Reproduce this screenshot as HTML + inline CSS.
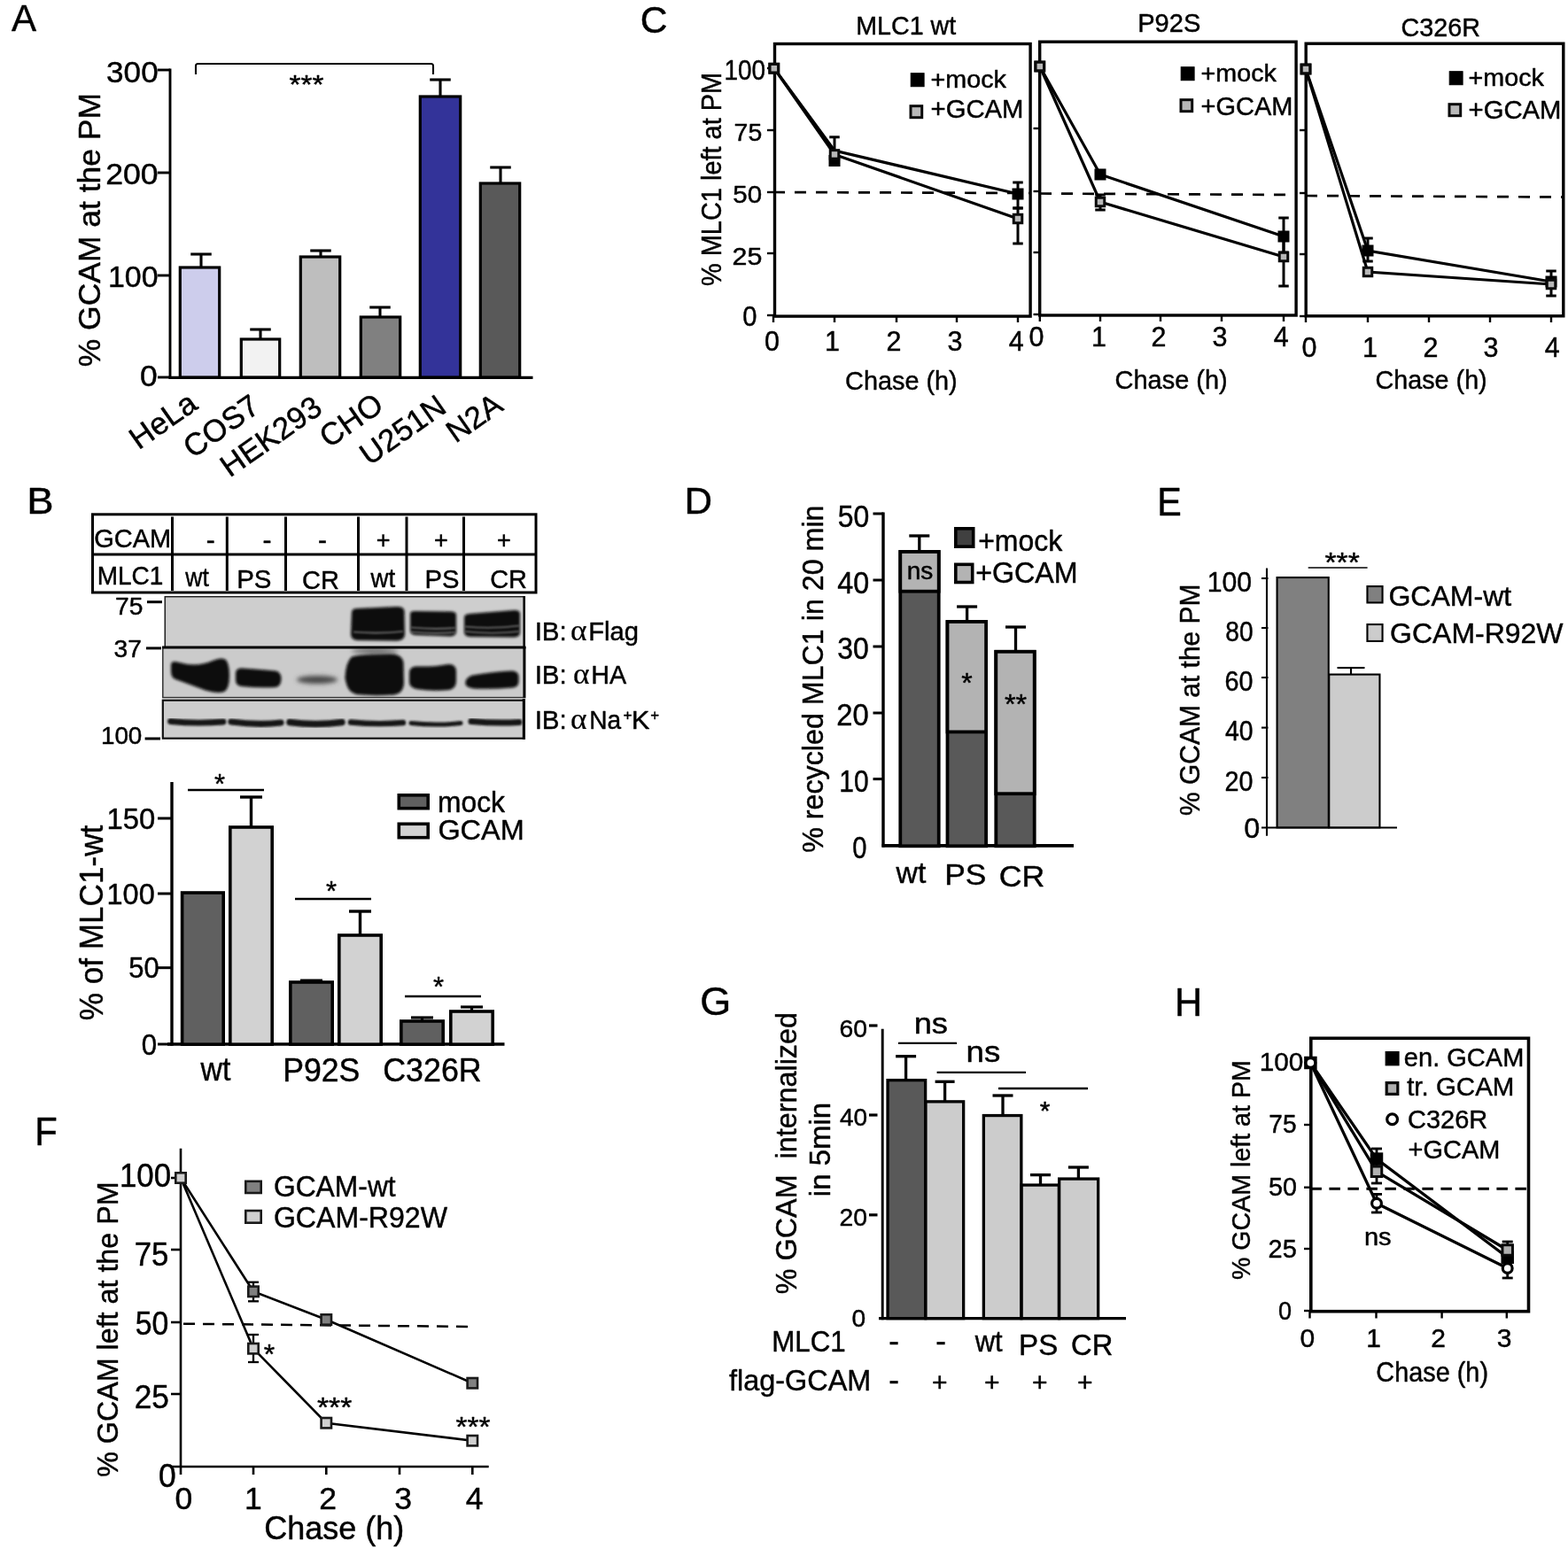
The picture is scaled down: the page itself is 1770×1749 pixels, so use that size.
<!DOCTYPE html>
<html lang="en"><head><meta charset="utf-8"><title>Figure</title>
<style>
html,body{margin:0;padding:0;background:#fff}
body{width:1770px;height:1749px;overflow:hidden}
svg{display:block}
text{font-family:"Liberation Sans",sans-serif;stroke:#000;stroke-width:0.45px;stroke-linejoin:round}
</style></head><body>
<svg width="1770" height="1749" viewBox="0 0 1770 1749">
<defs>
<filter id="b1" x="-30%" y="-60%" width="160%" height="220%"><feGaussianBlur stdDeviation="1.6"/></filter>
<filter id="b2" x="-30%" y="-60%" width="160%" height="220%"><feGaussianBlur stdDeviation="2.6"/></filter>
<filter id="b3" x="-30%" y="-100%" width="160%" height="300%"><feGaussianBlur stdDeviation="1"/></filter>
</defs>
<rect width="1770" height="1749" fill="#fff"/>
<g id="panelA">
<text transform="translate(13 35) scale(0.9907 1)" font-size="42.5" fill="#000">A</text>
<line x1="192" y1="77.5" x2="192" y2="427.8" stroke="#000" stroke-width="2.9"/>
<line x1="190.6" y1="426.3" x2="601.5" y2="426.3" stroke="#000" stroke-width="3.3"/>
<line x1="178" y1="79" x2="192" y2="79" stroke="#000" stroke-width="2.9"/>
<line x1="178" y1="195" x2="192" y2="195" stroke="#000" stroke-width="2.9"/>
<line x1="178" y1="311" x2="192" y2="311" stroke="#000" stroke-width="2.9"/>
<line x1="178" y1="426" x2="192" y2="426" stroke="#000" stroke-width="2.9"/>
<text transform="translate(120.1 93.4) scale(1.0322 1)" font-size="34" fill="#000">300</text>
<text transform="translate(119.22 208.2) scale(1.0480 1)" font-size="34" fill="#000">200</text>
<text transform="translate(121.95 324.2) scale(0.9987 1)" font-size="34" fill="#000">100</text>
<text transform="translate(158.08 436) scale(1.0417 1)" font-size="34" fill="#000">0</text>
<text xml:space="preserve" transform="translate(113 414.24) rotate(-90) scale(0.9984 1)" font-size="35.5" fill="#000">% GCAM at the PM</text>
<rect x="203.3" y="302" width="44.4" height="124" fill="#cdcdec" stroke="#000" stroke-width="3.2"/>
<rect x="272.3" y="383" width="43.4" height="43" fill="#f2f2f2" stroke="#000" stroke-width="3.2"/>
<rect x="339.3" y="290" width="44.4" height="136" fill="#bebebe" stroke="#000" stroke-width="3.2"/>
<rect x="407.3" y="358" width="44.4" height="68" fill="#808080" stroke="#000" stroke-width="3.2"/>
<rect x="474.3" y="109" width="45.4" height="317" fill="#333399" stroke="#000" stroke-width="3.2"/>
<rect x="542.3" y="207" width="44.4" height="219" fill="#595959" stroke="#000" stroke-width="3.2"/>
<line x1="227" y1="287" x2="227" y2="302" stroke="#000" stroke-width="3.1"/>
<line x1="215.25" y1="287" x2="238.75" y2="287" stroke="#000" stroke-width="3.1"/>
<line x1="294" y1="372" x2="294" y2="383" stroke="#000" stroke-width="3.1"/>
<line x1="282.25" y1="372" x2="305.75" y2="372" stroke="#000" stroke-width="3.1"/>
<line x1="362" y1="283" x2="362" y2="290" stroke="#000" stroke-width="3.1"/>
<line x1="350.25" y1="283" x2="373.75" y2="283" stroke="#000" stroke-width="3.1"/>
<line x1="429" y1="347" x2="429" y2="358" stroke="#000" stroke-width="3.1"/>
<line x1="417.25" y1="347" x2="440.75" y2="347" stroke="#000" stroke-width="3.1"/>
<line x1="497" y1="90" x2="497" y2="109" stroke="#000" stroke-width="3.1"/>
<line x1="485.25" y1="90" x2="508.75" y2="90" stroke="#000" stroke-width="3.1"/>
<line x1="565" y1="189" x2="565" y2="207" stroke="#000" stroke-width="3.1"/>
<line x1="553.25" y1="189" x2="576.75" y2="189" stroke="#000" stroke-width="3.1"/>
<path d="M221 84 V74.5 Q221 72 223.5 72 H486.5 Q489 72 489 74.5 V84" fill="none" stroke="#000" stroke-width="2.1"/>
<text transform="translate(326.5 104.5) scale(1.1111 1)" font-size="30" fill="#000">***</text>
<text transform="translate(225 460.5) rotate(-35) scale(1.0000 1)" font-size="35" text-anchor="end">HeLa</text>
<text transform="translate(295.5 463.5) rotate(-35) scale(1.0000 1)" font-size="35" text-anchor="end">COS7</text>
<text transform="translate(366 465) rotate(-35) scale(1.0000 1)" font-size="35" text-anchor="end">HEK293</text>
<text transform="translate(435 462) rotate(-35) scale(1.0000 1)" font-size="35" text-anchor="end">CHO</text>
<text transform="translate(506 464) rotate(-35) scale(1.0000 1)" font-size="35" text-anchor="end">U251N</text>
<text transform="translate(570 462) rotate(-35) scale(1.0000 1)" font-size="35" text-anchor="end">N2A</text>
</g>
<g id="panelC">
<text transform="translate(722.87 37) scale(0.9888 1)" font-size="43" fill="#000">C</text>
<text transform="translate(966.21 38.7) scale(0.9639 1)" font-size="29.7" fill="#000">MLC1 wt</text>
<text transform="translate(1284.17 36) scale(0.9796 1)" font-size="29.7" fill="#000">P92S</text>
<text transform="translate(1581.56 40.5) scale(0.9682 1)" font-size="29.7" fill="#000">C326R</text>
<rect x="874.5" y="49.5" width="288.6" height="307.6" fill="none" stroke="#000" stroke-width="3.4"/>
<rect x="1173.7" y="47.2" width="289.4" height="308.8" fill="none" stroke="#000" stroke-width="3.4"/>
<rect x="1474.2" y="49.2" width="290.6" height="307.6" fill="none" stroke="#000" stroke-width="3.4"/>
<line x1="866" y1="77" x2="873" y2="77" stroke="#000" stroke-width="2.4"/>
<line x1="866" y1="147" x2="873" y2="147" stroke="#000" stroke-width="2.4"/>
<line x1="866" y1="217" x2="873" y2="217" stroke="#000" stroke-width="2.4"/>
<line x1="866" y1="286" x2="873" y2="286" stroke="#000" stroke-width="2.4"/>
<line x1="866" y1="356" x2="873" y2="356" stroke="#000" stroke-width="2.4"/>
<line x1="873" y1="357" x2="873" y2="364" stroke="#000" stroke-width="2.4"/>
<line x1="942" y1="357" x2="942" y2="364" stroke="#000" stroke-width="2.4"/>
<line x1="1012" y1="357" x2="1012" y2="364" stroke="#000" stroke-width="2.4"/>
<line x1="1080" y1="357" x2="1080" y2="364" stroke="#000" stroke-width="2.4"/>
<line x1="1149" y1="357" x2="1149" y2="364" stroke="#000" stroke-width="2.4"/>
<line x1="1166.5" y1="145" x2="1173" y2="145" stroke="#000" stroke-width="2.4"/>
<line x1="1166.5" y1="216" x2="1173" y2="216" stroke="#000" stroke-width="2.4"/>
<line x1="1166.5" y1="285" x2="1173" y2="285" stroke="#000" stroke-width="2.4"/>
<line x1="1166.5" y1="355" x2="1173" y2="355" stroke="#000" stroke-width="2.4"/>
<line x1="1173.8" y1="356" x2="1173.8" y2="363" stroke="#000" stroke-width="2.4"/>
<line x1="1242" y1="356" x2="1242" y2="363" stroke="#000" stroke-width="2.4"/>
<line x1="1310" y1="356" x2="1310" y2="363" stroke="#000" stroke-width="2.4"/>
<line x1="1379" y1="356" x2="1379" y2="363" stroke="#000" stroke-width="2.4"/>
<line x1="1449" y1="356" x2="1449" y2="363" stroke="#000" stroke-width="2.4"/>
<line x1="1467" y1="147" x2="1474" y2="147" stroke="#000" stroke-width="2.4"/>
<line x1="1467" y1="218" x2="1474" y2="218" stroke="#000" stroke-width="2.4"/>
<line x1="1467" y1="287" x2="1474" y2="287" stroke="#000" stroke-width="2.4"/>
<line x1="1467" y1="357" x2="1474" y2="357" stroke="#000" stroke-width="2.4"/>
<line x1="1474" y1="357" x2="1474" y2="364" stroke="#000" stroke-width="2.4"/>
<line x1="1544" y1="357" x2="1544" y2="364" stroke="#000" stroke-width="2.4"/>
<line x1="1613" y1="357" x2="1613" y2="364" stroke="#000" stroke-width="2.4"/>
<line x1="1682" y1="357" x2="1682" y2="364" stroke="#000" stroke-width="2.4"/>
<line x1="1751" y1="357" x2="1751" y2="364" stroke="#000" stroke-width="2.4"/>
<text transform="translate(817.4 90) scale(0.8742 1)" font-size="32" fill="#000">100</text>
<text transform="translate(828.58 159) scale(1.0530 1)" font-size="27" fill="#000">75</text>
<text transform="translate(827.32 229) scale(1.0914 1)" font-size="27" fill="#000">50</text>
<text transform="translate(826.48 299) scale(1.1256 1)" font-size="27" fill="#000">25</text>
<text transform="translate(838.33 368) scale(0.9409 1)" font-size="31" fill="#000">0</text>
<text xml:space="preserve" transform="translate(813.7 323.01) rotate(-90) scale(0.9250 1)" font-size="31.3" fill="#000">% MLC1 left at PM</text>
<text transform="translate(862.96 395.5) scale(1.0000 1)" font-size="30.5" fill="#000">0</text>
<text transform="translate(931.08 395.5) scale(1.0000 1)" font-size="30.5" fill="#000">1</text>
<text transform="translate(1000.54 395.5) scale(1.0000 1)" font-size="30.5" fill="#000">2</text>
<text transform="translate(1069.54 395.5) scale(1.0000 1)" font-size="30.5" fill="#000">3</text>
<text transform="translate(1138.69 395.5) scale(1.0000 1)" font-size="30.5" fill="#000">4</text>
<text transform="translate(1161.46 391) scale(1.0000 1)" font-size="30.5" fill="#000">0</text>
<text transform="translate(1232.08 391) scale(1.0000 1)" font-size="30.5" fill="#000">1</text>
<text transform="translate(1299.54 391) scale(1.0000 1)" font-size="30.5" fill="#000">2</text>
<text transform="translate(1368.54 391) scale(1.0000 1)" font-size="30.5" fill="#000">3</text>
<text transform="translate(1437.69 391) scale(1.0000 1)" font-size="30.5" fill="#000">4</text>
<text transform="translate(1469.46 402.7) scale(1.0000 1)" font-size="30.5" fill="#000">0</text>
<text transform="translate(1538.08 402.7) scale(1.0000 1)" font-size="30.5" fill="#000">1</text>
<text transform="translate(1606.54 402.7) scale(1.0000 1)" font-size="30.5" fill="#000">2</text>
<text transform="translate(1674.54 402.7) scale(1.0000 1)" font-size="30.5" fill="#000">3</text>
<text transform="translate(1743.69 402.7) scale(1.0000 1)" font-size="30.5" fill="#000">4</text>
<text transform="translate(954.06 440) scale(0.9618 1)" font-size="30" fill="#000">Chase (h)</text>
<text transform="translate(1258.55 439) scale(0.9657 1)" font-size="30" fill="#000">Chase (h)</text>
<text transform="translate(1552.56 438.5) scale(0.9579 1)" font-size="30" fill="#000">Chase (h)</text>
<line x1="873" y1="217" x2="1163" y2="218" stroke="#000" stroke-width="2.7" stroke-dasharray="13 11"/>
<line x1="1174" y1="218.5" x2="1463" y2="220" stroke="#000" stroke-width="2.7" stroke-dasharray="13 11"/>
<line x1="1474" y1="221" x2="1765" y2="222.5" stroke="#000" stroke-width="2.7" stroke-dasharray="13 11"/>
<polyline points="873.8,77 942,170 1149,219" fill="none" stroke="#000" stroke-width="3.2"/>
<line x1="942" y1="154.8" x2="942" y2="180" stroke="#000" stroke-width="3"/>
<line x1="936.25" y1="154.8" x2="947.75" y2="154.8" stroke="#000" stroke-width="3"/>
<line x1="1149" y1="206" x2="1149" y2="235" stroke="#000" stroke-width="3"/>
<line x1="1143.25" y1="206" x2="1154.75" y2="206" stroke="#000" stroke-width="3"/>
<line x1="1143.25" y1="235" x2="1154.75" y2="235" stroke="#000" stroke-width="3"/>
<rect x="868.05" y="71.45" width="11.5" height="11.5" fill="#000" stroke="#000" stroke-width="1.5"/>
<rect x="936.25" y="175.75" width="11.5" height="11.5" fill="#000" stroke="#000" stroke-width="1.5"/>
<rect x="1143.25" y="213.25" width="11.5" height="11.5" fill="#000" stroke="#000" stroke-width="1.5"/>
<polyline points="873.8,77.2 942,174.4 1149,247" fill="none" stroke="#000" stroke-width="3.2"/>
<line x1="1149" y1="235" x2="1149" y2="275" stroke="#000" stroke-width="3"/>
<line x1="1143.25" y1="235" x2="1154.75" y2="235" stroke="#000" stroke-width="3"/>
<line x1="1143.25" y1="275" x2="1154.75" y2="275" stroke="#000" stroke-width="3"/>
<rect x="869.05" y="72.45" width="9.5" height="9.5" fill="#b8b8b8" stroke="#0a0a0a" stroke-width="3"/>
<rect x="937.25" y="169.65" width="9.5" height="9.5" fill="#b8b8b8" stroke="#0a0a0a" stroke-width="3"/>
<rect x="1144.25" y="242.25" width="9.5" height="9.5" fill="#b8b8b8" stroke="#0a0a0a" stroke-width="3"/>
<polyline points="1173.8,75 1242,197 1449,267" fill="none" stroke="#000" stroke-width="3.2"/>
<line x1="1449" y1="246" x2="1449" y2="285" stroke="#000" stroke-width="3"/>
<line x1="1443.25" y1="246" x2="1454.75" y2="246" stroke="#000" stroke-width="3"/>
<line x1="1443.25" y1="285" x2="1454.75" y2="285" stroke="#000" stroke-width="3"/>
<rect x="1168.05" y="69.25" width="11.5" height="11.5" fill="#000" stroke="#000" stroke-width="1.5"/>
<rect x="1236.25" y="191.25" width="11.5" height="11.5" fill="#000" stroke="#000" stroke-width="1.5"/>
<rect x="1443.25" y="261.25" width="11.5" height="11.5" fill="#000" stroke="#000" stroke-width="1.5"/>
<polyline points="1173.8,75 1242,228 1449,290" fill="none" stroke="#000" stroke-width="3.2"/>
<line x1="1242" y1="220" x2="1242" y2="237" stroke="#000" stroke-width="3"/>
<line x1="1236.25" y1="220" x2="1247.75" y2="220" stroke="#000" stroke-width="3"/>
<line x1="1236.25" y1="237" x2="1247.75" y2="237" stroke="#000" stroke-width="3"/>
<line x1="1449" y1="270" x2="1449" y2="323" stroke="#000" stroke-width="3"/>
<line x1="1443.25" y1="270" x2="1454.75" y2="270" stroke="#000" stroke-width="3"/>
<line x1="1443.25" y1="323" x2="1454.75" y2="323" stroke="#000" stroke-width="3"/>
<rect x="1169.05" y="70.25" width="9.5" height="9.5" fill="#b8b8b8" stroke="#0a0a0a" stroke-width="3"/>
<rect x="1237.25" y="223.25" width="9.5" height="9.5" fill="#b8b8b8" stroke="#0a0a0a" stroke-width="3"/>
<rect x="1444.25" y="285.25" width="9.5" height="9.5" fill="#b8b8b8" stroke="#0a0a0a" stroke-width="3"/>
<polyline points="1474,78 1544,283 1751,318" fill="none" stroke="#000" stroke-width="3.2"/>
<line x1="1544" y1="269" x2="1544" y2="295" stroke="#000" stroke-width="3"/>
<line x1="1538.25" y1="269" x2="1549.75" y2="269" stroke="#000" stroke-width="3"/>
<line x1="1538.25" y1="295" x2="1549.75" y2="295" stroke="#000" stroke-width="3"/>
<line x1="1751" y1="306" x2="1751" y2="334" stroke="#000" stroke-width="3"/>
<line x1="1745.25" y1="306" x2="1756.75" y2="306" stroke="#000" stroke-width="3"/>
<line x1="1745.25" y1="334" x2="1756.75" y2="334" stroke="#000" stroke-width="3"/>
<rect x="1468.25" y="72.25" width="11.5" height="11.5" fill="#000" stroke="#000" stroke-width="1.5"/>
<rect x="1538.25" y="277.25" width="11.5" height="11.5" fill="#000" stroke="#000" stroke-width="1.5"/>
<rect x="1745.25" y="312.25" width="11.5" height="11.5" fill="#000" stroke="#000" stroke-width="1.5"/>
<polyline points="1474,78 1544,307 1751,321" fill="none" stroke="#000" stroke-width="3.2"/>
<rect x="1469.25" y="73.25" width="9.5" height="9.5" fill="#b8b8b8" stroke="#0a0a0a" stroke-width="3"/>
<rect x="1539.25" y="302.25" width="9.5" height="9.5" fill="#b8b8b8" stroke="#0a0a0a" stroke-width="3"/>
<rect x="1746.25" y="316.25" width="9.5" height="9.5" fill="#b8b8b8" stroke="#0a0a0a" stroke-width="3"/>
<rect x="1028.2" y="82.7" width="14.9" height="15" fill="#000" stroke="#000" stroke-width="1"/>
<text transform="translate(1050.56 99) scale(1.0636 1)" font-size="27" fill="#000">+mock</text>
<rect x="1028" y="119.7" width="12.7" height="13" fill="#b8b8b8" stroke="#0a0a0a" stroke-width="3"/>
<text transform="translate(1050.54 133) scale(1.0095 1)" font-size="29" fill="#000">+GCAM</text>
<rect x="1333.2" y="75.7" width="14.9" height="15" fill="#000" stroke="#000" stroke-width="1"/>
<text transform="translate(1355.56 92) scale(1.0636 1)" font-size="27" fill="#000">+mock</text>
<rect x="1333" y="112.7" width="12.7" height="13" fill="#b8b8b8" stroke="#0a0a0a" stroke-width="3"/>
<text transform="translate(1355.55 130) scale(0.9995 1)" font-size="29" fill="#000">+GCAM</text>
<rect x="1636.2" y="80.7" width="14.9" height="15" fill="#000" stroke="#000" stroke-width="1"/>
<text transform="translate(1657.56 97) scale(1.0636 1)" font-size="27" fill="#000">+mock</text>
<rect x="1636" y="117.7" width="12.7" height="13" fill="#b8b8b8" stroke="#0a0a0a" stroke-width="3"/>
<text transform="translate(1657.54 134) scale(1.0095 1)" font-size="29" fill="#000">+GCAM</text>
</g>
<g id="panelB">
<text transform="translate(30.37 580.3) scale(1.0687 1)" font-size="42.5" fill="#000">B</text>
<rect x="104.5" y="580.8" width="500.5" height="88.2" fill="none" stroke="#000" stroke-width="3"/>
<line x1="104" y1="626" x2="605" y2="626" stroke="#000" stroke-width="3"/>
<line x1="194.5" y1="583.5" x2="194.5" y2="667" stroke="#000" stroke-width="3"/>
<line x1="256.3" y1="583.5" x2="256.3" y2="667" stroke="#000" stroke-width="3"/>
<line x1="322.5" y1="583.5" x2="322.5" y2="667" stroke="#000" stroke-width="3"/>
<line x1="404.5" y1="583.5" x2="404.5" y2="667" stroke="#000" stroke-width="3"/>
<line x1="459" y1="583.5" x2="459" y2="667" stroke="#000" stroke-width="3"/>
<line x1="523.5" y1="583.5" x2="523.5" y2="667" stroke="#000" stroke-width="3"/>
<text transform="translate(106.15 618) scale(1.0002 1)" font-size="29" fill="#000">GCAM</text>
<text transform="translate(109.66 659.8) scale(0.9652 1)" font-size="29" fill="#000">MLC1</text>
<text transform="translate(232.67 620.2) scale(1.0000 1)" font-size="30" fill="#000">-</text>
<text transform="translate(296.47 620.2) scale(1.0000 1)" font-size="30" fill="#000">-</text>
<text transform="translate(358.97 620.2) scale(1.0000 1)" font-size="30" fill="#000">-</text>
<text transform="translate(424.8 619) scale(1.0000 1)" font-size="27" fill="#000">+</text>
<text transform="translate(490.1 619) scale(1.0000 1)" font-size="27" fill="#000">+</text>
<text transform="translate(561.1 619) scale(1.0000 1)" font-size="27" fill="#000">+</text>
<text transform="translate(209.3 662) scale(0.9005 1)" font-size="29.5" fill="#000">wt</text>
<text transform="translate(267.14 664.3) scale(0.9987 1)" font-size="29.5" fill="#000">PS</text>
<text transform="translate(340.95 665) scale(0.9829 1)" font-size="29.5" fill="#000">CR</text>
<text transform="translate(418.6 662.5) scale(0.9382 1)" font-size="29.5" fill="#000">wt</text>
<text transform="translate(479.46 663.5) scale(0.9902 1)" font-size="29.5" fill="#000">PS</text>
<text transform="translate(553.15 664) scale(0.9804 1)" font-size="29.5" fill="#000">CR</text>
<rect x="185.6" y="673" width="406.6" height="58" fill="#cecece"/>
<rect x="183.5" y="731" width="409.5" height="57" fill="#cbcbcb"/>
<rect x="183.5" y="790.3" width="408.5" height="43" fill="#cdcdcd"/>
<clipPath id="cb1"><rect x="186" y="674" width="406" height="57"/></clipPath>
<clipPath id="cb2"><rect x="184" y="732" width="409" height="55"/></clipPath>
<clipPath id="cb3"><rect x="184" y="791" width="408" height="42"/></clipPath>
<g clip-path="url(#cb1)"><g filter="url(#b1)" fill="#0c0c0c">
<path d="M397 691 Q397.5 687 403 687 L447 685 Q456 684.5 456.5 690 L457 717 Q456 723 448 723.5 L403 723 Q396 722 396 716 Z"/>
<path d="M463 693 Q463 690 468 690 L510 690.5 Q515 691 515 694 L515 714 Q514 718 509 718.5 L468 717 Q463 716 463 712 Z"/>
<path d="M524 697 Q524 693.5 530 693 L580 689 Q587 688.5 587 693 L587 715 Q586 719.5 580 719.5 L530 719 Q524 718 524 714 Z"/>
</g>
<g filter="url(#b3)" stroke="#9a9a9a" stroke-width="1.6" fill="none" opacity="0.75">
<path d="M399 713.5 Q426 716 455 713"/>
<path d="M464 708.5 Q490 711 514 709"/><path d="M464 713.5 Q490 716 514 714"/>
<path d="M525 707.5 Q555 710.5 586 706.5"/><path d="M525 713 Q555 716.5 586 713"/>
</g></g>
<g clip-path="url(#cb2)">
<g filter="url(#b1)" fill="#0a0a0a">
<path d="M193 750 Q194 746 200 747.5 Q222 754 240 746 Q250 741.5 255 745 Q259 750 259 763 Q259 778 253 781 Q245 783.5 232 779.5 Q212 772 198 767 Q193 765 193 758 Z"/>
<path d="M266 760 Q266 754.5 273 754.5 Q295 756 311 757.5 Q317.5 759 317.5 766 Q317.5 775 311 776 Q292 777 273 775 Q266 774 266 768 Z"/>
<path d="M389.5 766 Q390 748 397 741.5 Q410 737.5 440 738 Q454 738.5 455.5 748 L456 772 Q455 783 445 784.5 Q420 786 402 784 Q393 781 391 772 Z"/>
<path d="M462 760 Q462 753 469 752.5 Q492 753 506 750 Q514 749.5 515 757 L515 770 Q514 778 507 779 Q488 781 470 778 Q462 776 462 770 Z"/>
<path d="M525.5 770 Q526 765 533 762.5 Q560 758 578 757.5 Q585.5 758 585.5 764 L585.5 770 Q585 776 578 776.5 Q555 778.5 535 777.5 Q527 776 525.5 773 Z"/>
</g>
<g filter="url(#b2)"><ellipse cx="358" cy="767.5" rx="23" ry="4.6" fill="#4a4a4a"/><ellipse cx="423" cy="735" rx="26" ry="3" fill="#666"/></g>
</g>
<g clip-path="url(#cb3)"><g filter="url(#b3)" fill="none" stroke="#151515" stroke-linecap="round">
<path d="M192.5 814.5 Q222 817.5 252 815" stroke-width="6.8"/>
<path d="M261 815 Q292 819 317 816" stroke-width="7.2"/>
<path d="M327 815.5 Q356 819.5 386 815.5" stroke-width="7.4"/>
<path d="M396 815.5 Q426 818.5 455 816" stroke-width="6.4"/>
<path d="M464 816.5 Q492 819.5 520 816.5" stroke-width="5"/>
<path d="M532 814.5 Q560 817 586 815.5" stroke-width="7"/>
</g></g>
<rect x="186.3" y="673.7" width="405.4" height="57" fill="none" stroke="#222" stroke-width="1.5"/>
<rect x="183.8" y="731" width="409" height="56.6" fill="none" stroke="#333" stroke-width="1.5"/>
<line x1="183" y1="731" x2="593.5" y2="731" stroke="#000" stroke-width="3"/>
<line x1="591.7" y1="673" x2="591.7" y2="788" stroke="#000" stroke-width="2.6"/>
<rect x="183.8" y="790.7" width="408.1" height="43" fill="none" stroke="#111" stroke-width="2.2"/>
<line x1="591.4" y1="789" x2="591.4" y2="835" stroke="#000" stroke-width="3.2"/>
<text transform="translate(129.99 693.8) scale(1.0084 1)" font-size="28" fill="#000">75</text>
<text transform="translate(128.57 742) scale(1.0084 1)" font-size="28" fill="#000">37</text>
<text transform="translate(113.91 840.2) scale(0.9945 1)" font-size="28" fill="#000">100</text>
<line x1="166" y1="679.7" x2="183" y2="679.7" stroke="#000" stroke-width="3"/>
<line x1="165" y1="731.9" x2="182" y2="731.9" stroke="#000" stroke-width="3"/>
<line x1="163.6" y1="834" x2="181" y2="834" stroke="#000" stroke-width="3"/>
<text transform="translate(603.64 723) scale(1.0007 1)" font-size="29.5" fill="#000">IB:</text>
<text transform="translate(644.09 723.3) scale(1.0695 1)" font-size="33" fill="#000" style="font-family:'Liberation Serif',serif;stroke-width:0.25px">α</text>
<text transform="translate(664.17 723) scale(0.9887 1)" font-size="29.5" fill="#000">Flag</text>
<text transform="translate(603.64 772) scale(1.0007 1)" font-size="29.5" fill="#000">IB:</text>
<text transform="translate(647.09 772.3) scale(1.0695 1)" font-size="33" fill="#000" style="font-family:'Liberation Serif',serif;stroke-width:0.25px">α</text>
<text transform="translate(667.2 772) scale(0.9741 1)" font-size="29.5" fill="#000">HA</text>
<text transform="translate(603.64 823) scale(1.0007 1)" font-size="29.5" fill="#000">IB:</text>
<text transform="translate(644.09 823.3) scale(1.0695 1)" font-size="33" fill="#000" style="font-family:'Liberation Serif',serif;stroke-width:0.25px">α</text>
<text transform="translate(665.26 823) scale(0.9503 1)" font-size="29.5" fill="#000">Na</text>
<text transform="translate(703.44 813.2) scale(1.0067 1)" font-size="17" fill="#000">+</text>
<text transform="translate(712.84 823) scale(1.0435 1)" font-size="29.5" fill="#000">K</text>
<text transform="translate(734.15 812.8) scale(0.9945 1)" font-size="17" fill="#000">+</text>
<line x1="194" y1="883" x2="194" y2="1180.8" stroke="#000" stroke-width="3.4"/>
<line x1="189" y1="1179" x2="569.5" y2="1179" stroke="#000" stroke-width="3.6"/>
<line x1="178" y1="924" x2="194" y2="924" stroke="#000" stroke-width="3"/>
<line x1="178" y1="1009" x2="194" y2="1009" stroke="#000" stroke-width="3"/>
<line x1="178" y1="1092.7" x2="194" y2="1092.7" stroke="#000" stroke-width="3"/>
<line x1="178" y1="1179" x2="194" y2="1179" stroke="#000" stroke-width="3"/>
<text transform="translate(120.54 936) scale(0.9790 1)" font-size="33.5" fill="#000">150</text>
<text transform="translate(120.56 1020.5) scale(0.9694 1)" font-size="33.5" fill="#000">100</text>
<text transform="translate(145.26 1104) scale(0.9229 1)" font-size="33.5" fill="#000">50</text>
<text transform="translate(159.75 1190.5) scale(0.9328 1)" font-size="33.5" fill="#000">0</text>
<text xml:space="preserve" transform="translate(116 1152.23) rotate(-90) scale(0.9366 1)" font-size="37.5" fill="#000">% of MLC1-wt</text>
<rect x="205.6" y="1008" width="46.6" height="171.2" fill="#606060" stroke="#000" stroke-width="3.6"/>
<rect x="259.8" y="934" width="47.4" height="245.2" fill="#d2d2d2" stroke="#000" stroke-width="3.6"/>
<rect x="327.8" y="1109" width="47.4" height="70.2" fill="#606060" stroke="#000" stroke-width="3.6"/>
<rect x="382.8" y="1056" width="47.4" height="123.2" fill="#d2d2d2" stroke="#000" stroke-width="3.6"/>
<rect x="452.8" y="1153" width="47.4" height="26.2" fill="#606060" stroke="#000" stroke-width="3.6"/>
<rect x="508.8" y="1142" width="47.4" height="37.2" fill="#d2d2d2" stroke="#000" stroke-width="3.6"/>
<line x1="283.5" y1="900" x2="283.5" y2="934" stroke="#000" stroke-width="3.4"/>
<line x1="271" y1="900" x2="296" y2="900" stroke="#000" stroke-width="3.4"/>
<line x1="406.5" y1="1029" x2="406.5" y2="1056" stroke="#000" stroke-width="3.4"/>
<line x1="394" y1="1029" x2="419" y2="1029" stroke="#000" stroke-width="3.4"/>
<line x1="351.5" y1="1107" x2="351.5" y2="1109" stroke="#000" stroke-width="3"/>
<line x1="339" y1="1107" x2="364" y2="1107" stroke="#000" stroke-width="3"/>
<line x1="476.5" y1="1149" x2="476.5" y2="1153" stroke="#000" stroke-width="3.2"/>
<line x1="464" y1="1149" x2="489" y2="1149" stroke="#000" stroke-width="3.2"/>
<line x1="532.5" y1="1137" x2="532.5" y2="1142" stroke="#000" stroke-width="3.2"/>
<line x1="520" y1="1137" x2="545" y2="1137" stroke="#000" stroke-width="3.2"/>
<line x1="212" y1="892" x2="298" y2="892" stroke="#000" stroke-width="2.3"/>
<line x1="333" y1="1015" x2="419" y2="1015" stroke="#000" stroke-width="2.3"/>
<line x1="457" y1="1125" x2="543" y2="1125" stroke="#000" stroke-width="2.3"/>
<text transform="translate(241.95 895.5) scale(1.0000 1)" font-size="31" fill="#000">*</text>
<text transform="translate(367.96 1016.5) scale(1.0000 1)" font-size="31" fill="#000">*</text>
<text transform="translate(488.96 1125.3) scale(1.0000 1)" font-size="31" fill="#000">*</text>
<rect x="450.3" y="897.8" width="32.9" height="14.9" fill="#606060" stroke="#000" stroke-width="3.6"/>
<rect x="450.3" y="930.3" width="32.9" height="15.4" fill="#d2d2d2" stroke="#000" stroke-width="3.6"/>
<text transform="translate(493.93 917) scale(0.9645 1)" font-size="33" fill="#000">mock</text>
<text transform="translate(494.38 948) scale(1.0144 1)" font-size="32" fill="#000">GCAM</text>
<text transform="translate(226.5 1220) scale(0.9146 1)" font-size="37" fill="#000">wt</text>
<text transform="translate(319.15 1220.5) scale(0.9506 1)" font-size="37.5" fill="#000">P92S</text>
<text transform="translate(432.21 1220.5) scale(0.9552 1)" font-size="37.5" fill="#000">C326R</text>
</g>
<g id="panelD">
<text transform="translate(772.5 580) scale(1.0162 1)" font-size="43" fill="#000">D</text>
<line x1="997" y1="578.5" x2="997" y2="956.5" stroke="#000" stroke-width="3.4"/>
<line x1="995.5" y1="954.8" x2="1212" y2="954.8" stroke="#000" stroke-width="3.8"/>
<line x1="985.5" y1="580" x2="997.3" y2="580" stroke="#000" stroke-width="3"/>
<line x1="985.5" y1="655" x2="997.3" y2="655" stroke="#000" stroke-width="3"/>
<line x1="985.5" y1="730" x2="997.3" y2="730" stroke="#000" stroke-width="3"/>
<line x1="985.5" y1="805" x2="997.3" y2="805" stroke="#000" stroke-width="3"/>
<line x1="985.5" y1="879.6" x2="997.3" y2="879.6" stroke="#000" stroke-width="3"/>
<text transform="translate(945.72 594.5) scale(0.9242 1)" font-size="34.5" fill="#000">50</text>
<text transform="translate(945.36 669.5) scale(0.9341 1)" font-size="34.5" fill="#000">40</text>
<text transform="translate(945.22 744.3) scale(0.9242 1)" font-size="34.5" fill="#000">30</text>
<text transform="translate(944.37 819.3) scale(0.9473 1)" font-size="34.5" fill="#000">20</text>
<text transform="translate(947.25 894.3) scale(0.8696 1)" font-size="34.5" fill="#000">10</text>
<text transform="translate(962.33 969) scale(0.8454 1)" font-size="34.5" fill="#000">0</text>
<text xml:space="preserve" transform="translate(929 962.83) rotate(-90) scale(0.9484 1)" font-size="34" fill="#000">% recycled MLC1 in 20 min</text>
<rect x="1016.3" y="623" width="43.4" height="332.3" fill="#595959" stroke="#000" stroke-width="3.8"/>
<rect x="1016.3" y="623" width="43.4" height="44.7" fill="#b3b3b3" stroke="#000" stroke-width="3.8"/>
<rect x="1069.5" y="702" width="43.6" height="253.3" fill="#595959" stroke="#000" stroke-width="3.8"/>
<rect x="1069.5" y="702" width="43.6" height="124.4" fill="#b3b3b3" stroke="#000" stroke-width="3.8"/>
<rect x="1124.3" y="735.8" width="43.4" height="219.5" fill="#595959" stroke="#000" stroke-width="3.8"/>
<rect x="1124.3" y="735.8" width="43.4" height="160.4" fill="#b3b3b3" stroke="#000" stroke-width="3.8"/>
<line x1="1037.8" y1="605" x2="1037.8" y2="623" stroke="#000" stroke-width="3.3"/>
<line x1="1026.3" y1="605" x2="1049.3" y2="605" stroke="#000" stroke-width="3.3"/>
<line x1="1091.6" y1="685" x2="1091.6" y2="702" stroke="#000" stroke-width="3.3"/>
<line x1="1080.1" y1="685" x2="1103.1" y2="685" stroke="#000" stroke-width="3.3"/>
<line x1="1146.5" y1="708" x2="1146.5" y2="736" stroke="#000" stroke-width="3.3"/>
<line x1="1135" y1="708" x2="1158" y2="708" stroke="#000" stroke-width="3.3"/>
<text transform="translate(1023.68 653.5) scale(1.0022 1)" font-size="28" fill="#000">ns</text>
<text transform="translate(1085.36 781.5) scale(1.0000 1)" font-size="32" fill="#000">*</text>
<text transform="translate(1134.01 805.5) scale(1.0125 1)" font-size="32" fill="#000">**</text>
<rect x="1078.8" y="596.8" width="19.9" height="20.4" fill="#404040" stroke="#000" stroke-width="3.6"/>
<rect x="1078.8" y="637.3" width="18.9" height="20.2" fill="#b3b3b3" stroke="#000" stroke-width="3.6"/>
<text transform="translate(1104.2 621.6) scale(0.9542 1)" font-size="33.5" fill="#000">+mock</text>
<text transform="translate(1101.19 658.4) scale(0.9621 1)" font-size="33.5" fill="#000">+GCAM</text>
<text transform="translate(1011.6 997.4) scale(0.9923 1)" font-size="34" fill="#000">wt</text>
<text transform="translate(1066.17 999) scale(1.0398 1)" font-size="34" fill="#000">PS</text>
<text transform="translate(1127.72 1001) scale(1.0475 1)" font-size="34" fill="#000">CR</text>
</g>
<g id="panelE">
<text transform="translate(1306.2 582) scale(0.9491 1)" font-size="43.5" fill="#000">E</text>
<line x1="1430" y1="641.5" x2="1430" y2="943.7" stroke="#000" stroke-width="2.1"/>
<line x1="1424" y1="934.5" x2="1577" y2="934.5" stroke="#000" stroke-width="2.1"/>
<line x1="1424" y1="653" x2="1431.5" y2="653" stroke="#000" stroke-width="2.1"/>
<line x1="1424" y1="709" x2="1431.5" y2="709" stroke="#000" stroke-width="2.1"/>
<line x1="1424" y1="765" x2="1431.5" y2="765" stroke="#000" stroke-width="2.1"/>
<line x1="1424" y1="821.6" x2="1431.5" y2="821.6" stroke="#000" stroke-width="2.1"/>
<line x1="1424" y1="878" x2="1431.5" y2="878" stroke="#000" stroke-width="2.1"/>
<text transform="translate(1362.73 667.5) scale(0.9750 1)" font-size="31" fill="#000">100</text>
<text transform="translate(1383.23 723.7) scale(0.9082 1)" font-size="31" fill="#000">80</text>
<text transform="translate(1382.56 780) scale(0.9284 1)" font-size="31" fill="#000">60</text>
<text transform="translate(1382.93 836.3) scale(0.9173 1)" font-size="31" fill="#000">40</text>
<text transform="translate(1382.56 892.7) scale(0.9284 1)" font-size="31" fill="#000">20</text>
<text transform="translate(1404.21 946.3) scale(1.0417 1)" font-size="31" fill="#000">0</text>
<text xml:space="preserve" transform="translate(1353.7 921.05) rotate(-90) scale(0.9518 1)" font-size="31.5" fill="#000">% GCAM at the PM</text>
<rect x="1441.55" y="652.05" width="58.2" height="282.3" fill="#808080" stroke="#000" stroke-width="2.1"/>
<rect x="1500.25" y="761.55" width="57.2" height="172.8" fill="#cccccc" stroke="#000" stroke-width="2.1"/>
<line x1="1525" y1="754" x2="1525" y2="761" stroke="#000" stroke-width="2.1"/>
<line x1="1509.5" y1="754" x2="1540.5" y2="754" stroke="#000" stroke-width="2.1"/>
<line x1="1476.7" y1="641" x2="1543.6" y2="641" stroke="#000" stroke-width="1.6"/>
<text transform="translate(1495.49 646) scale(1.0526 1)" font-size="32" fill="#000">***</text>
<rect x="1543.45" y="662.05" width="17.1" height="18.4" fill="#808080" stroke="#000" stroke-width="2.1"/>
<rect x="1543.45" y="705.05" width="17.1" height="18.9" fill="#cccccc" stroke="#000" stroke-width="2.1"/>
<text transform="translate(1567.4 684) scale(1.0015 1)" font-size="32" fill="#000">GCAM-wt</text>
<text transform="translate(1569.1 726) scale(0.9999 1)" font-size="32" fill="#000">GCAM-R92W</text>
</g>
<g id="panelF">
<text transform="translate(39.15 1292.5) scale(0.9508 1)" font-size="44" fill="#000">F</text>
<line x1="204" y1="1296.7" x2="204" y2="1665" stroke="#000" stroke-width="2.6"/>
<line x1="192" y1="1656" x2="551.7" y2="1656" stroke="#000" stroke-width="2.6"/>
<line x1="193" y1="1330" x2="204" y2="1330" stroke="#000" stroke-width="2.6"/>
<line x1="193" y1="1411" x2="204" y2="1411" stroke="#000" stroke-width="2.6"/>
<line x1="193" y1="1493" x2="204" y2="1493" stroke="#000" stroke-width="2.6"/>
<line x1="193" y1="1574" x2="204" y2="1574" stroke="#000" stroke-width="2.6"/>
<line x1="286" y1="1656" x2="286" y2="1665" stroke="#000" stroke-width="2.6"/>
<line x1="368.3" y1="1656" x2="368.3" y2="1665" stroke="#000" stroke-width="2.6"/>
<line x1="451" y1="1656" x2="451" y2="1665" stroke="#000" stroke-width="2.6"/>
<line x1="533.3" y1="1656" x2="533.3" y2="1665" stroke="#000" stroke-width="2.6"/>
<text transform="translate(134.89 1340) scale(0.9420 1)" font-size="37" fill="#000">100</text>
<text transform="translate(151.76 1428.5) scale(0.9406 1)" font-size="37" fill="#000">75</text>
<text transform="translate(152.65 1506.5) scale(0.9140 1)" font-size="37" fill="#000">50</text>
<text transform="translate(151.74 1590) scale(0.9539 1)" font-size="37" fill="#000">25</text>
<text transform="translate(179.08 1678.5) scale(0.9572 1)" font-size="37" fill="#000">0</text>
<text transform="translate(197.56 1704) scale(1.0000 1)" font-size="35.5" fill="#000">0</text>
<text transform="translate(276.12 1704) scale(1.0000 1)" font-size="35.5" fill="#000">1</text>
<text transform="translate(360.15 1704) scale(1.0000 1)" font-size="35.5" fill="#000">2</text>
<text transform="translate(445.15 1704) scale(1.0000 1)" font-size="35.5" fill="#000">3</text>
<text transform="translate(525.83 1704) scale(1.0000 1)" font-size="35.5" fill="#000">4</text>
<text transform="translate(298.2 1737.7) scale(0.9858 1)" font-size="36.5" fill="#000">Chase (h)</text>
<text xml:space="preserve" transform="translate(133 1667.83) rotate(-90) scale(0.9776 1)" font-size="33" fill="#000">% GCAM left at the PM</text>
<line x1="207" y1="1494.7" x2="533" y2="1498" stroke="#000" stroke-width="2.5" stroke-dasharray="13 9"/>
<polyline points="204,1330 286,1458.3 368.3,1490 533.3,1561.7" fill="none" stroke="#000" stroke-width="2.6"/>
<polyline points="204,1330 286,1522.7 368.3,1606.7 533.3,1626.7" fill="none" stroke="#000" stroke-width="2.6"/>
<line x1="286" y1="1447.7" x2="286" y2="1469.3" stroke="#000" stroke-width="2.3"/>
<line x1="280" y1="1447.7" x2="292" y2="1447.7" stroke="#000" stroke-width="2.3"/>
<line x1="280" y1="1469.3" x2="292" y2="1469.3" stroke="#000" stroke-width="2.3"/>
<line x1="286" y1="1507" x2="286" y2="1538" stroke="#000" stroke-width="2.3"/>
<line x1="280" y1="1507" x2="292" y2="1507" stroke="#000" stroke-width="2.3"/>
<line x1="280" y1="1538" x2="292" y2="1538" stroke="#000" stroke-width="2.3"/>
<rect x="198.3" y="1324.3" width="11.4" height="11.4" fill="#808080" stroke="#1a1a1a" stroke-width="2.6"/>
<rect x="280.3" y="1452.6" width="11.4" height="11.4" fill="#808080" stroke="#1a1a1a" stroke-width="2.6"/>
<rect x="362.6" y="1484.3" width="11.4" height="11.4" fill="#808080" stroke="#1a1a1a" stroke-width="2.6"/>
<rect x="527.6" y="1556" width="11.4" height="11.4" fill="#808080" stroke="#1a1a1a" stroke-width="2.6"/>
<rect x="198.3" y="1324.3" width="11.4" height="11.4" fill="#d0d0d0" stroke="#1a1a1a" stroke-width="2.6"/>
<rect x="280.3" y="1517" width="11.4" height="11.4" fill="#d0d0d0" stroke="#1a1a1a" stroke-width="2.6"/>
<rect x="362.6" y="1601" width="11.4" height="11.4" fill="#d0d0d0" stroke="#1a1a1a" stroke-width="2.6"/>
<rect x="527.6" y="1621" width="11.4" height="11.4" fill="#d0d0d0" stroke="#1a1a1a" stroke-width="2.6"/>
<text transform="translate(297.76 1539.5) scale(1.0000 1)" font-size="32" fill="#000">*</text>
<text transform="translate(357.99 1599.5) scale(1.0554 1)" font-size="32" fill="#000">***</text>
<text transform="translate(514.5 1622) scale(1.0417 1)" font-size="32" fill="#000">***</text>
<rect x="277.3" y="1333.8" width="17.4" height="13.2" fill="#808080" stroke="#1a1a1a" stroke-width="2.6"/>
<rect x="277.3" y="1367" width="17.4" height="13.7" fill="#d0d0d0" stroke="#1a1a1a" stroke-width="2.6"/>
<text transform="translate(308.91 1350.6) scale(0.9440 1)" font-size="33.7" fill="#000">GCAM-wt</text>
<text transform="translate(308.9 1386.3) scale(0.9524 1)" font-size="33.7" fill="#000">GCAM-R92W</text>
</g>
<g id="panelG">
<text transform="translate(790.25 1145.6) scale(1.0236 1)" font-size="44" fill="#000">G</text>
<line x1="996.2" y1="1161.8" x2="996.2" y2="1490.3" stroke="#000" stroke-width="2.9"/>
<line x1="992" y1="1488.7" x2="1271" y2="1488.7" stroke="#000" stroke-width="3.3"/>
<line x1="981" y1="1158" x2="990.5" y2="1158" stroke="#000" stroke-width="3.2"/>
<line x1="981" y1="1259" x2="990.5" y2="1259" stroke="#000" stroke-width="3.2"/>
<line x1="981" y1="1371.8" x2="990.5" y2="1371.8" stroke="#000" stroke-width="3.2"/>
<text transform="translate(947.59 1170.5) scale(1.0105 1)" font-size="28" fill="#000">60</text>
<text transform="translate(947.94 1271) scale(0.9986 1)" font-size="28" fill="#000">40</text>
<text transform="translate(947.59 1384) scale(1.0105 1)" font-size="28" fill="#000">20</text>
<text transform="translate(961.38 1498) scale(1.0045 1)" font-size="28" fill="#000">0</text>
<text xml:space="preserve" transform="translate(899.3 1461.13) rotate(-90) scale(0.9517 1)" font-size="34" fill="#000">% GCAM  internalized</text>
<text xml:space="preserve" transform="translate(937.3 1351.14) rotate(-90) scale(1.0140 1)" font-size="32.5" fill="#000">in 5min</text>
<rect x="1002.05" y="1219.65" width="42.6" height="269" fill="#595959" stroke="#000" stroke-width="3.3"/>
<rect x="1044.95" y="1243.85" width="42.7" height="244.8" fill="#cccccc" stroke="#000" stroke-width="3.3"/>
<rect x="1110.35" y="1259.55" width="42.5" height="229.1" fill="#cccccc" stroke="#000" stroke-width="3.3"/>
<rect x="1153.15" y="1338.05" width="42.2" height="150.6" fill="#cccccc" stroke="#000" stroke-width="3.3"/>
<rect x="1195.65" y="1331.05" width="44" height="157.6" fill="#cccccc" stroke="#000" stroke-width="3.3"/>
<line x1="1022.6" y1="1192.7" x2="1022.6" y2="1219.6" stroke="#000" stroke-width="3.3"/>
<line x1="1011.1" y1="1192.7" x2="1034.1" y2="1192.7" stroke="#000" stroke-width="3.3"/>
<line x1="1066.6" y1="1221.3" x2="1066.6" y2="1243.8" stroke="#000" stroke-width="3.3"/>
<line x1="1055.6" y1="1221.3" x2="1077.6" y2="1221.3" stroke="#000" stroke-width="3.3"/>
<line x1="1132" y1="1237" x2="1132" y2="1259.5" stroke="#000" stroke-width="3.3"/>
<line x1="1120.5" y1="1237" x2="1143.5" y2="1237" stroke="#000" stroke-width="3.3"/>
<line x1="1174.5" y1="1326.6" x2="1174.5" y2="1338" stroke="#000" stroke-width="3.3"/>
<line x1="1163" y1="1326.6" x2="1186" y2="1326.6" stroke="#000" stroke-width="3.3"/>
<line x1="1217.4" y1="1318" x2="1217.4" y2="1331" stroke="#000" stroke-width="3.3"/>
<line x1="1205.9" y1="1318" x2="1228.9" y2="1318" stroke="#000" stroke-width="3.3"/>
<line x1="1014" y1="1177.9" x2="1080" y2="1177.9" stroke="#000" stroke-width="2.3"/>
<line x1="1057.6" y1="1210.8" x2="1158" y2="1210.8" stroke="#000" stroke-width="2.3"/>
<line x1="1127" y1="1229" x2="1228" y2="1229" stroke="#000" stroke-width="2.3"/>
<text transform="translate(1031.64 1166.5) scale(1.0687 1)" font-size="34" fill="#000">ns</text>
<text transform="translate(1090.62 1199) scale(1.0779 1)" font-size="34" fill="#000">ns</text>
<text transform="translate(1173.65 1263.5) scale(1.0000 1)" font-size="30" fill="#000">*</text>
<text transform="translate(871.3 1526) scale(0.9485 1)" font-size="33" fill="#000">MLC1</text>
<text transform="translate(823.01 1569.5) scale(0.9826 1)" font-size="33" fill="#000">flag-GCAM</text>
<text transform="translate(1003.14 1526.3) scale(1.0000 1)" font-size="35" fill="#000">-</text>
<text transform="translate(1056.14 1526.3) scale(1.0000 1)" font-size="35" fill="#000">-</text>
<text transform="translate(1003.14 1570.3) scale(1.0000 1)" font-size="35" fill="#000">-</text>
<text transform="translate(1100.8 1526) scale(0.9366 1)" font-size="33" fill="#000">wt</text>
<text transform="translate(1150.05 1530) scale(1.0034 1)" font-size="33" fill="#000">PS</text>
<text transform="translate(1209.06 1530) scale(0.9913 1)" font-size="33" fill="#000">CR</text>
<text transform="translate(1052.02 1571) scale(1.0000 1)" font-size="30" fill="#000">+</text>
<text transform="translate(1110.92 1571) scale(1.0000 1)" font-size="30" fill="#000">+</text>
<text transform="translate(1164.92 1571) scale(1.0000 1)" font-size="30" fill="#000">+</text>
<text transform="translate(1215.92 1571) scale(1.0000 1)" font-size="30" fill="#000">+</text>
</g>
<g id="panelH">
<text transform="translate(1326.04 1146.7) scale(0.9821 1)" font-size="44" fill="#000">H</text>
<rect x="1479.8" y="1172.3" width="245.7" height="308.4" fill="none" stroke="#000" stroke-width="3.6"/>
<line x1="1472" y1="1200" x2="1479.4" y2="1200" stroke="#000" stroke-width="2.4"/>
<line x1="1472" y1="1270" x2="1479.4" y2="1270" stroke="#000" stroke-width="2.4"/>
<line x1="1472" y1="1340.7" x2="1479.4" y2="1340.7" stroke="#000" stroke-width="2.4"/>
<line x1="1472" y1="1410" x2="1479.4" y2="1410" stroke="#000" stroke-width="2.4"/>
<line x1="1472" y1="1480" x2="1479.4" y2="1480" stroke="#000" stroke-width="2.4"/>
<line x1="1478.5" y1="1481" x2="1478.5" y2="1488.5" stroke="#000" stroke-width="2.4"/>
<line x1="1553.5" y1="1481" x2="1553.5" y2="1488.5" stroke="#000" stroke-width="2.4"/>
<line x1="1627.6" y1="1481" x2="1627.6" y2="1488.5" stroke="#000" stroke-width="2.4"/>
<line x1="1700.8" y1="1481" x2="1700.8" y2="1488.5" stroke="#000" stroke-width="2.4"/>
<text transform="translate(1421.77 1209.2) scale(1.0093 1)" font-size="29.5" fill="#000">100</text>
<text transform="translate(1432.3 1278.9) scale(0.9505 1)" font-size="29.5" fill="#000">75</text>
<text transform="translate(1432.05 1349.8) scale(0.9727 1)" font-size="29.5" fill="#000">50</text>
<text transform="translate(1431.55 1419.5) scale(0.9804 1)" font-size="29.5" fill="#000">25</text>
<text transform="translate(1442.92 1489.5) scale(0.9181 1)" font-size="29.5" fill="#000">0</text>
<text transform="translate(1467.6 1521) scale(1.0000 1)" font-size="30" fill="#000">0</text>
<text transform="translate(1542.22 1521) scale(1.0000 1)" font-size="30" fill="#000">1</text>
<text transform="translate(1615.17 1521) scale(1.0000 1)" font-size="30" fill="#000">2</text>
<text transform="translate(1689.67 1521) scale(1.0000 1)" font-size="30" fill="#000">3</text>
<text transform="translate(1553.36 1559.8) scale(0.9461 1)" font-size="30.5" fill="#000">Chase (h)</text>
<text xml:space="preserve" transform="translate(1411 1445) rotate(-90) scale(0.9760 1)" font-size="29.3" fill="#000">% GCAM left at PM</text>
<line x1="1479.4" y1="1342.3" x2="1727" y2="1342.3" stroke="#000" stroke-width="3.1" stroke-dasharray="12.5 8.5"/>
<polyline points="1479.4,1200 1554,1308.6 1701.7,1419.7" fill="none" stroke="#000" stroke-width="3.3"/>
<polyline points="1479.4,1200 1554,1322.8 1701.7,1411.5" fill="none" stroke="#000" stroke-width="3.3"/>
<polyline points="1479.4,1200 1554,1358.8 1701.7,1432" fill="none" stroke="#000" stroke-width="3.3"/>
<line x1="1554" y1="1297" x2="1554" y2="1336" stroke="#000" stroke-width="2.8"/>
<line x1="1548" y1="1297" x2="1560" y2="1297" stroke="#000" stroke-width="2.8"/>
<line x1="1548" y1="1336" x2="1560" y2="1336" stroke="#000" stroke-width="2.8"/>
<line x1="1554" y1="1348.4" x2="1554" y2="1369" stroke="#000" stroke-width="2.8"/>
<line x1="1548" y1="1348.4" x2="1560" y2="1348.4" stroke="#000" stroke-width="2.8"/>
<line x1="1548" y1="1369" x2="1560" y2="1369" stroke="#000" stroke-width="2.8"/>
<line x1="1701.7" y1="1402" x2="1701.7" y2="1443" stroke="#000" stroke-width="2.8"/>
<line x1="1695.7" y1="1402" x2="1707.7" y2="1402" stroke="#000" stroke-width="2.8"/>
<line x1="1695.7" y1="1443" x2="1707.7" y2="1443" stroke="#000" stroke-width="2.8"/>
<rect x="1472.9" y="1193.5" width="13" height="13" fill="#000" stroke="#000" stroke-width="1.5"/>
<rect x="1547.5" y="1302.1" width="13" height="13" fill="#000" stroke="#000" stroke-width="1.5"/>
<rect x="1695.2" y="1413.2" width="13" height="13" fill="#000" stroke="#000" stroke-width="1.5"/>
<rect x="1548.25" y="1317.05" width="11.5" height="11.5" fill="#b0b0b0" stroke="#0a0a0a" stroke-width="3"/>
<rect x="1695.95" y="1405.75" width="11.5" height="11.5" fill="#b0b0b0" stroke="#0a0a0a" stroke-width="3"/>
<circle cx="1479.4" cy="1200" r="5.4" fill="#fff" stroke="#000" stroke-width="3.2"/>
<circle cx="1554" cy="1358.8" r="5.4" fill="#fff" stroke="#000" stroke-width="3.2"/>
<circle cx="1701.7" cy="1432" r="5.4" fill="#fff" stroke="#000" stroke-width="3.2"/>
<text transform="translate(1539.91 1406) scale(1.0396 1)" font-size="28" fill="#000">ns</text>
<rect x="1564.1" y="1187.5" width="15" height="15.4" fill="#000" stroke="#000" stroke-width="1"/>
<rect x="1565.2" y="1222.6" width="12.6" height="12.8" fill="#b0b0b0" stroke="#0a0a0a" stroke-width="3.2"/>
<circle cx="1571.6" cy="1263.8" r="5.9" fill="#fff" stroke="#000" stroke-width="3.2"/>
<text transform="translate(1584.84 1204.3) scale(0.9681 1)" font-size="30" fill="#000">en. GCAM</text>
<text transform="translate(1588.16 1237.2) scale(0.9830 1)" font-size="30" fill="#000">tr. GCAM</text>
<text transform="translate(1589.05 1274.3) scale(0.9652 1)" font-size="30" fill="#000">C326R</text>
<text transform="translate(1589.55 1307.7) scale(0.9662 1)" font-size="30" fill="#000">+GCAM</text>
</g>
</svg>
</body></html>
